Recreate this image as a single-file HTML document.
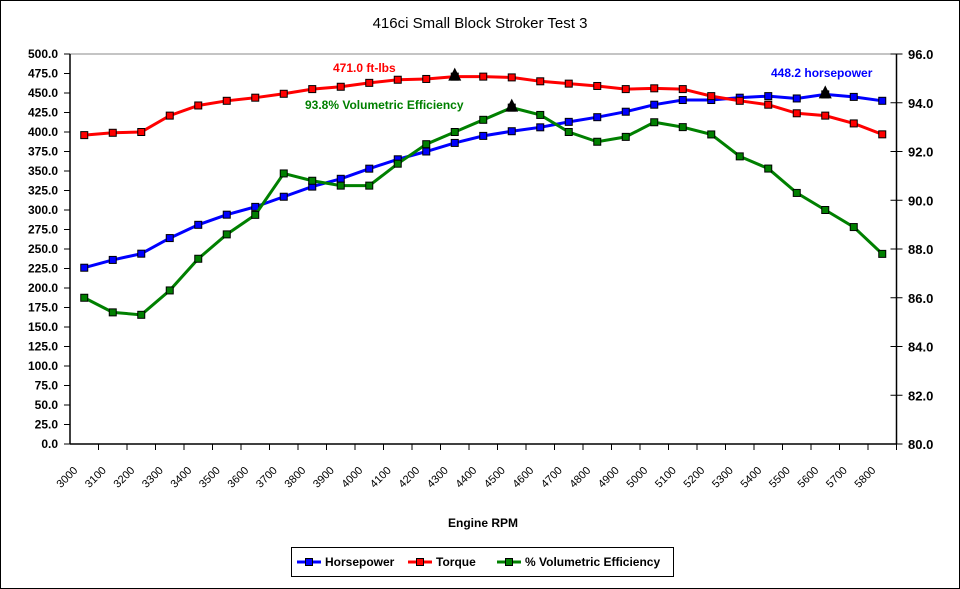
<!DOCTYPE html>
<html><head><meta charset="utf-8"><style>
body{margin:0;background:#fff}
svg{display:block;font-family:"Liberation Sans",sans-serif}
</style></head><body>
<svg id="c" width="960" height="589" viewBox="0 0 960 589">
<rect x="0.5" y="0.5" width="959" height="588" fill="#fff" stroke="#000"/>
<text x="480" y="28" text-anchor="middle" font-size="15">416ci Small Block Stroker Test 3</text>
<text x="483" y="527" text-anchor="middle" font-size="12" font-weight="bold">Engine RPM</text>
<g id="g"></g>
</svg>
<script>
const rpm=[3000,3100,3200,3300,3400,3500,3600,3700,3800,3900,4000,4100,4200,4300,4400,4500,4600,4700,4800,4900,5000,5100,5200,5300,5400,5500,5600,5700,5800];
const hp=[226,236,244,264,281,294,304,317,330,340,353,365,375,386,395,401,406,413,419,426,435,441,441,444,446,443,448.2,445,440];
const tq=[396,399,400,421,434,440,444,449,455,458,463,467,468,471,471,470,465,462,459,455,456,455,446,440,435,424,421,411,397];
const ve=[86.0,85.4,85.3,86.3,87.6,88.6,89.4,91.1,90.8,90.6,90.6,91.5,92.3,92.8,93.3,93.8,93.5,92.8,92.4,92.6,93.2,93.0,92.7,91.8,91.3,90.3,89.6,88.9,87.8];
const leftTicks=[0,25,50,75,100,125,150,175,200,225,250,275,300,325,350,375,400,425,450,475,500];
const rightTicks=[80,82,84,86,88,90,92,94,96];
const NS="http://www.w3.org/2000/svg";
const L=70,R=896.5,T=54,B=444;
const bw=(R-L)/rpm.length;
const xs=i=>L+bw*(i+0.5);
const yl=v=>B-(v/500)*(B-T);
const yr=v=>B-((v-80)/16)*(B-T);
const g=document.getElementById('g');
function mk(t,a,p){const e=document.createElementNS(NS,t);for(const k in a)e.setAttribute(k,a[k]);(p||g).appendChild(e);return e;}
let e=mk('line',{x1:L,y1:T,x2:R,y2:T,stroke:'#888','stroke-width':1});


e=mk('line',{x1:L,y1:T,x2:L,y2:B,stroke:'#000','stroke-width':1.5});


e=mk('line',{x1:R,y1:T,x2:R,y2:B,stroke:'#000','stroke-width':1.5});


e=mk('line',{x1:L,y1:B,x2:R,y2:B,stroke:'#000','stroke-width':1.5});


leftTicks.forEach(v=>{const y=yl(v);
 mk('line',{x1:L-6,y1:y,x2:L,y2:y,stroke:'#000'});
 const t=mk('text',{x:58,y:y+4,'text-anchor':'end','font-size':12,'font-weight':'bold'});t.textContent=v.toFixed(1);
 
 
});
rightTicks.forEach(v=>{const y=yr(v);
 mk('line',{x1:R-6,y1:y,x2:R+6,y2:y,stroke:'#000'});
 const t=mk('text',{x:908,y:y+5,'font-size':13,'font-weight':'bold'});t.textContent=v.toFixed(1);
 
 
});
rpm.forEach((r,i)=>{const x=L+bw*(i+1);
 mk('line',{x1:x,y1:B,x2:x,y2:B+6,stroke:'#000'});
 const cx=xs(i)-6,cy=B+27;
 const t=mk('text',{x:cx,y:cy,'text-anchor':'end','font-size':11,transform:`rotate(-45 ${cx} ${cy})`});t.textContent=r;
 
 
});
function series(vals,ys,col,name){
 const p=mk('polyline',{points:vals.map((v,i)=>xs(i)+','+ys(v)).join(' '),fill:'none',stroke:col,'stroke-width':3});
 
 
 vals.forEach((v,i)=>{const m=mk('rect',{x:xs(i)-3.5,y:ys(v)-3.5,width:7,height:7,fill:col,stroke:'#000','stroke-width':1});
  
  });
}
series(hp,yl,'#0000ff','horsepower');
series(tq,yl,'#ff0000','torque');
series(ve,yr,'#008000','volumetric-efficiency');
function peak(vals,ys,name){let mi=0;vals.forEach((v,i)=>{if(v>vals[mi])mi=i;});const x=xs(mi),y=ys(vals[mi]);
 const t=mk('polygon',{points:`${x},${y-9} ${x-6.5},${y+4} ${x+6.5},${y+4}`,fill:'#000'});
 
 }
peak(tq,yl,'torque');peak(ve,yr,'ve');peak(hp,yl,'horsepower');
function ann(x,y,txt,col,name){const t=mk('text',{x:x,y:y,'font-size':12,'font-weight':'bold',fill:col});t.textContent=txt;
 
 }
ann(333,72,'471.0 ft-lbs','#ff0000','torque-peak-label');
ann(305,109,'93.8% Volumetric Efficiency','#008000','ve-peak-label');
ann(771,77,'448.2 horsepower','#0000ff','hp-peak-label');
const lg=mk('g',{});


mk('rect',{x:291.5,y:547.5,width:382,height:29,fill:'#fff',stroke:'#000'},lg);
[['Horsepower','#0000ff',297],['Torque','#ff0000',408],['% Volumetric Efficiency','#008000',497]].forEach(([n,c,x])=>{
 const it=mk('g',{},lg);
 
 
 mk('line',{x1:x,y1:562,x2:x+24,y2:562,stroke:c,'stroke-width':3},it);
 mk('rect',{x:x+8.5,y:558.5,width:7,height:7,fill:c,stroke:'#000'},it);
 const t=mk('text',{x:x+28,y:566,'font-size':12,'font-weight':'bold'},it);t.textContent=n;
});
</script>
</body></html>
